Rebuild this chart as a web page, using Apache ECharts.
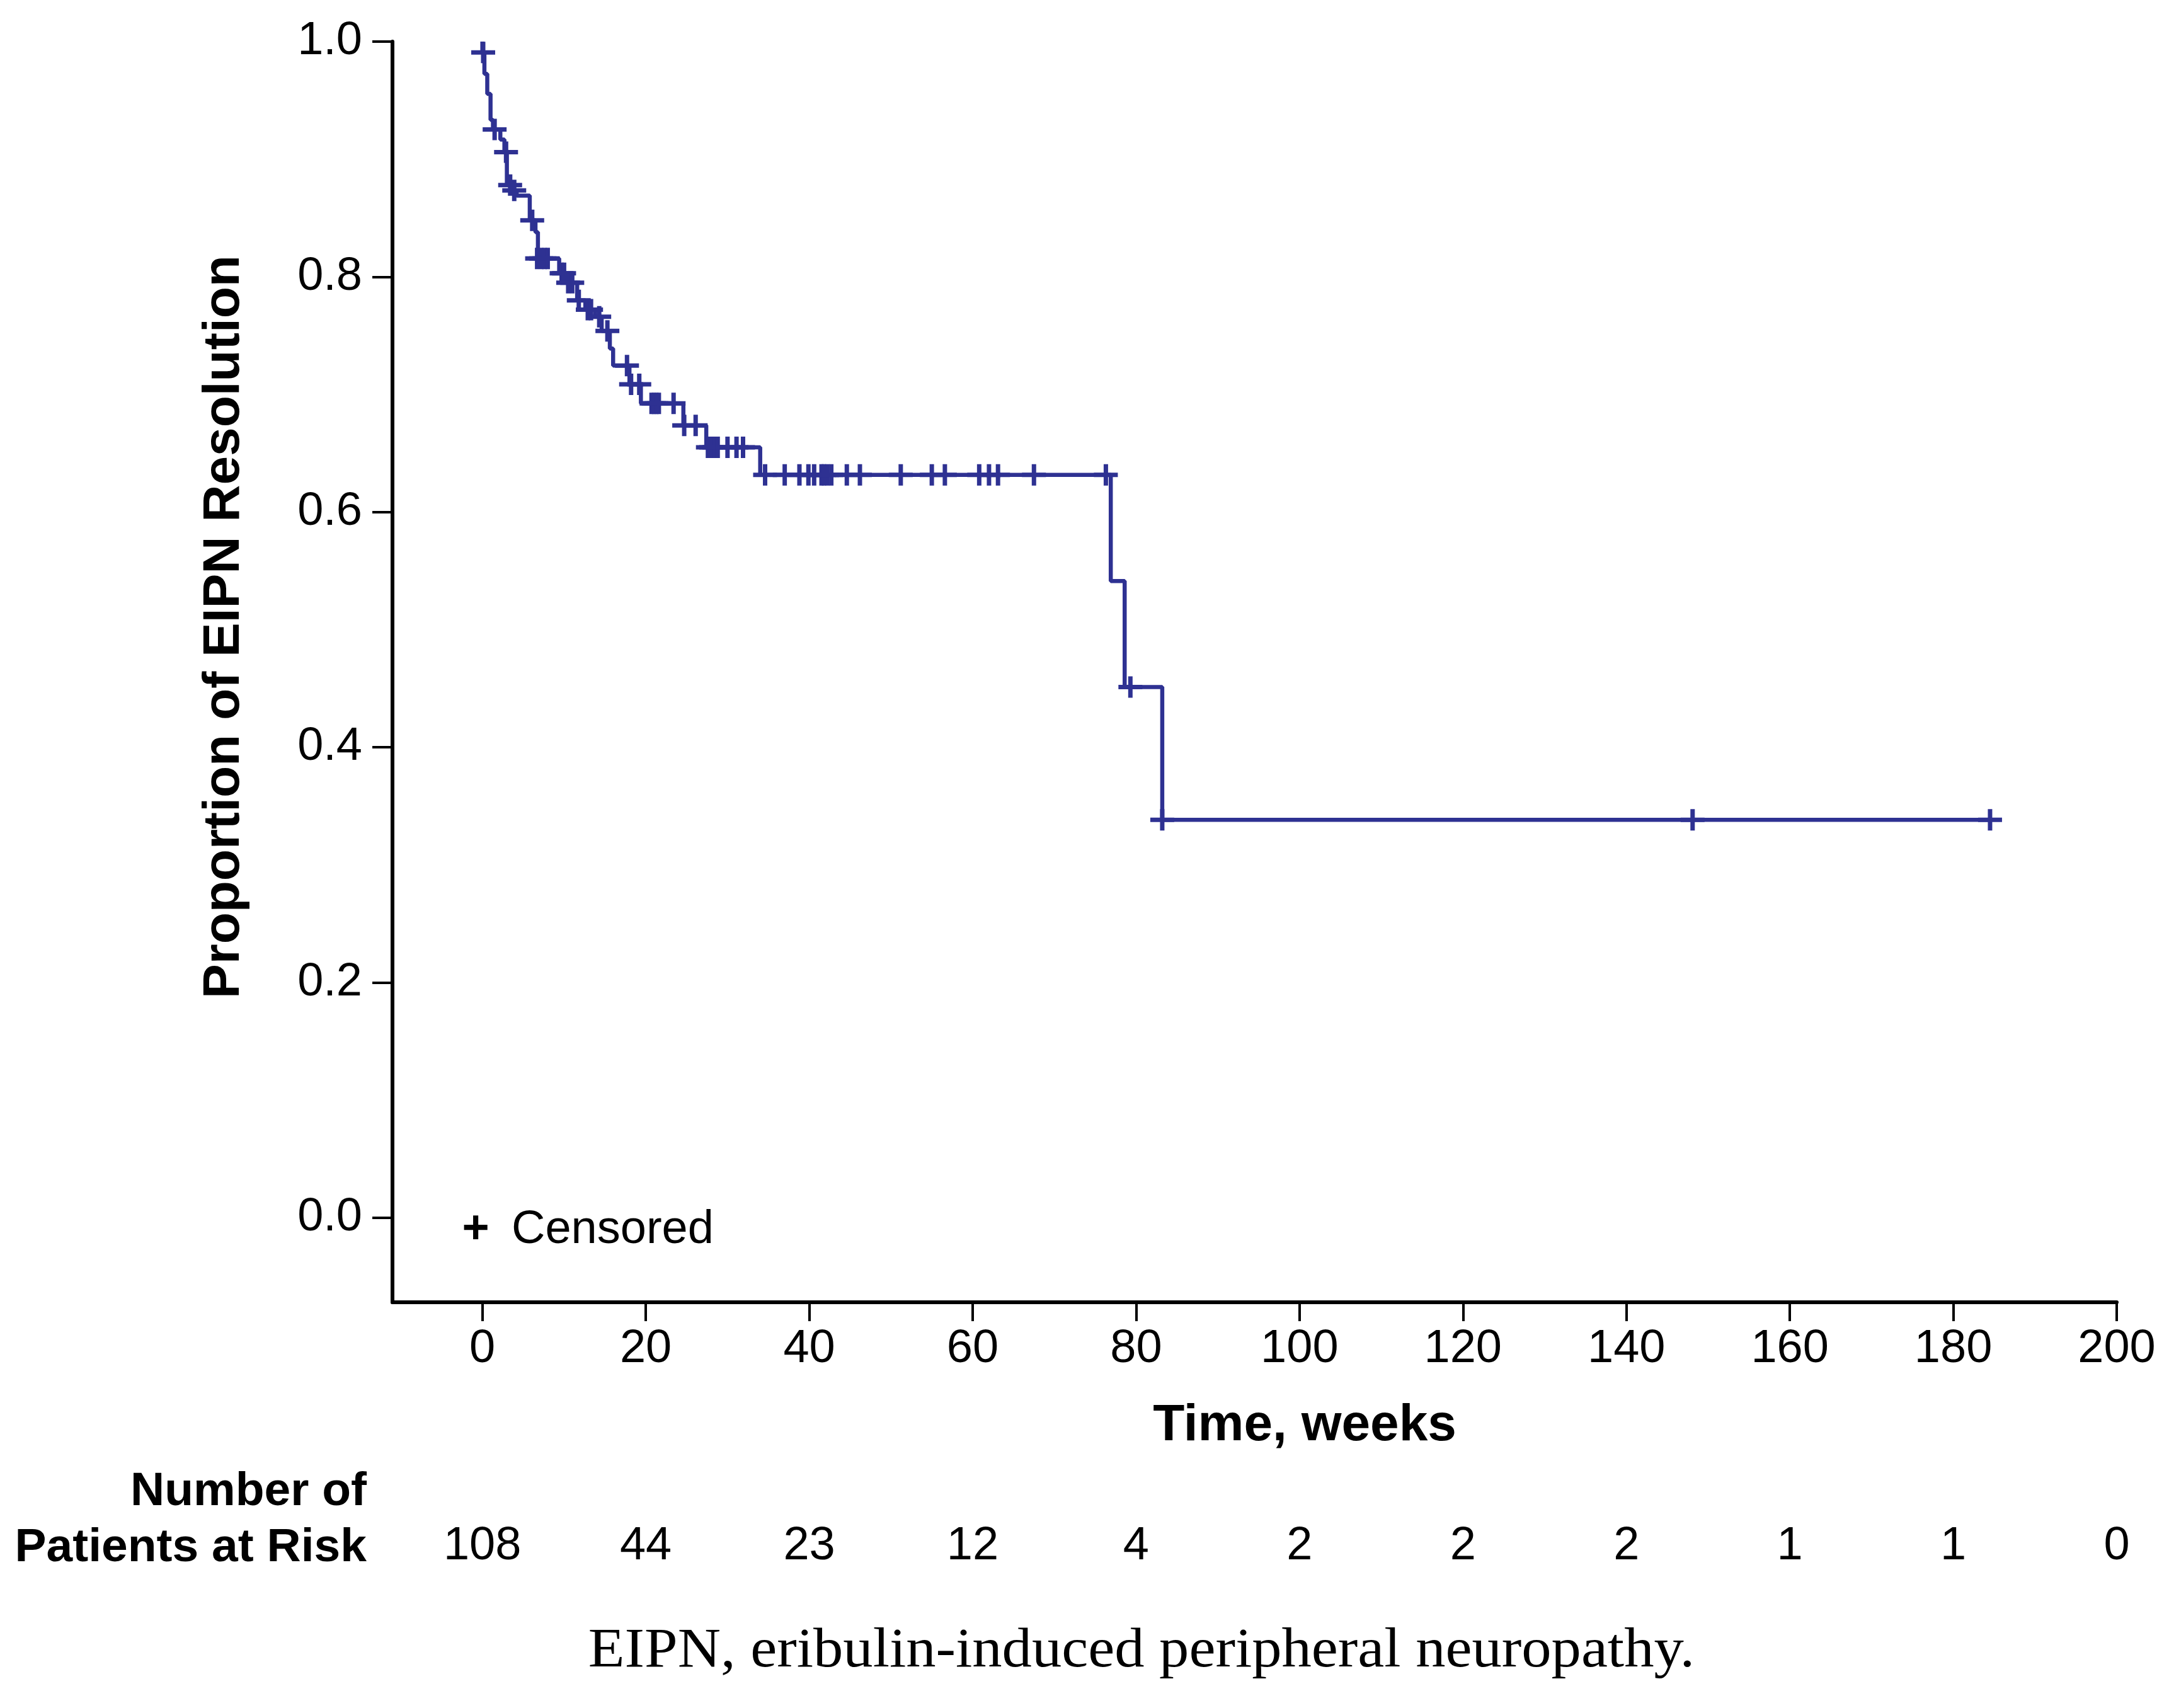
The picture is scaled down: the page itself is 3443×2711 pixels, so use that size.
<!DOCTYPE html>
<html><head><meta charset="utf-8">
<script src="https://cdn.jsdelivr.net/npm/echarts@6/dist/echarts.min.js"></script>
<style>html,body{margin:0;padding:0;background:#fff}#c{width:3443px;height:2711px}</style>
</head><body><div id="c"></div>
<script>
// Kaplan-Meier step curve (time in weeks, proportion after the step)
const curveTimes = [0, 0, 0.25, 0.6, 1.0, 1.3, 2.2, 2.7, 3.0, 3.7, 4.2, 5.8, 6.5, 6.8, 9.4, 10.2, 11.6, 12.6, 13.8, 14.6, 15.6, 16.0, 18.0, 19.4, 24.6, 27.4, 34.0, 76.9, 78.6, 83.2, 184.5];
const curveSurv  = [1.0, 0.9907, 0.9726, 0.9556, 0.9335, 0.9252, 0.9167, 0.906, 0.878, 0.8735, 0.869, 0.848, 0.838, 0.8156, 0.803, 0.795, 0.780, 0.772, 0.766, 0.754, 0.739, 0.7245, 0.7085, 0.6924, 0.6736, 0.655, 0.6315, 0.5413, 0.4511, 0.3383, 0.3383];

// Censored observations
const censorTimes = [0.1, 1.5, 2.9, 3.4, 3.9, 6.1, 6.7, 7.2, 7.6, 8.0, 9.7, 10.0, 10.5, 11.0, 11.8, 12.9, 13.3, 14.3, 15.3, 17.7, 18.2, 19.2, 20.7, 21.0, 21.3, 21.6, 23.4, 24.7, 26.1, 27.6, 28.0, 28.4, 28.8, 30.0, 31.1, 31.9, 34.6, 37.0, 38.8, 39.9, 40.6, 41.5, 41.8, 42.2, 42.7, 44.6, 46.2, 51.2, 55.0, 56.6, 60.8, 62.0, 63.1, 67.5, 76.3, 79.3, 83.2, 148.1, 184.5];
const censorSurv  = [0.9907, 0.9252, 0.906, 0.878, 0.8735, 0.848, 0.8156, 0.8156, 0.8156, 0.8156, 0.803, 0.803, 0.795, 0.795, 0.780, 0.772, 0.772, 0.766, 0.754, 0.7245, 0.7085, 0.7085, 0.6924, 0.6924, 0.6924, 0.6924, 0.6924, 0.6736, 0.6736, 0.655, 0.655, 0.655, 0.655, 0.655, 0.655, 0.655, 0.6315, 0.6315, 0.6315, 0.6315, 0.6315, 0.6315, 0.6315, 0.6315, 0.6315, 0.6315, 0.6315, 0.6315, 0.6315, 0.6315, 0.6315, 0.6315, 0.6315, 0.6315, 0.6315, 0.4511, 0.3383, 0.3383, 0.3383];

const xTicks = [0, 20, 40, 60, 80, 100, 120, 140, 160, 180, 200];
const yTicks = [0, 0.2, 0.4, 0.6, 0.8, 1.0];
const atRisk = [108, 44, 23, 12, 4, 2, 2, 2, 1, 1, 0];

const yTitle = 'Proportion of EIPN Resolution';
const xTitle = 'Time, weeks';
const riskTitle1 = 'Number of';
const riskTitle2 = 'Patients at Risk';
const legendText = 'Censored';
const caption = 'EIPN, eribulin-induced peripheral neuropathy.';

const LINE = '#2E3192';
const SANS = '"Liberation Sans", Arial, sans-serif';

const chart = echarts.init(document.getElementById('c'), null, {renderer: 'canvas'});

const curveData = curveTimes.map((t, i) => [t, curveSurv[i]]);
const censorData = censorTimes.map((t, i) => [t, censorSurv[i]]);

const option = {
  animation: false,
  backgroundColor: '#fff',
  grid: {left: 623, right: 83, top: 66, bottom: 644, containLabel: false},
  xAxis: {
    type: 'value', min: -11, max: 200,
    axisLine: {show: true, onZero: false, lineStyle: {color: '#000', width: 6}},
    axisTick: {show: true, inside: false, length: 30, customValues: xTicks, lineStyle: {color: '#000', width: 4}},
    axisLabel: {show: true, customValues: xTicks, margin: 38, color: '#000', fontFamily: SANS, fontSize: 74},
    splitLine: {show: false}
  },
  yAxis: {
    type: 'value', min: -0.072, max: 1.0,
    axisLine: {show: true, onZero: false, lineStyle: {color: '#000', width: 6}},
    axisTick: {show: true, inside: false, length: 32, customValues: yTicks, lineStyle: {color: '#000', width: 4}},
    axisLabel: {show: true, customValues: yTicks, margin: 48, color: '#000', fontFamily: SANS, fontSize: 74,
      formatter: v => v.toFixed(1)},
    splitLine: {show: false}
  },
  series: [
    {
      type: 'line', step: 'end', data: curveData, showSymbol: false, symbol: 'none',
      lineStyle: {color: LINE, width: 6.5}, z: 3
    },
    {
      type: 'scatter', data: censorData,
      symbol: 'path://M15.5,0 H22.5 V13.5 H38 V20.5 H22.5 V34 H15.5 V20.5 H0 V13.5 H15.5 Z',
      symbolSize: [38, 34], symbolKeepAspect: false,
      itemStyle: {color: LINE, opacity: 1}, z: 4
    }
  ]
};
chart.setOption(option);

const graphics = [
  {type: 'text', x: 356, y: 995, rotation: Math.PI / 2,
   style: {text: yTitle, x: 0, y: 0, align: 'center', verticalAlign: 'middle', fill: '#000',
     font: 'bold 82px ' + SANS}},
  {type: 'text', x: 2071, y: 2263,
   style: {text: xTitle, align: 'center', verticalAlign: 'middle', fill: '#000', font: 'bold 82px ' + SANS}},
  {type: 'text', x: 582, y: 2368,
   style: {text: riskTitle1, align: 'right', verticalAlign: 'middle', fill: '#000', font: 'bold 75px ' + SANS}},
  {type: 'text', x: 582, y: 2457,
   style: {text: riskTitle2, align: 'right', verticalAlign: 'middle', fill: '#000', font: 'bold 75px ' + SANS}},
  {type: 'text', x: 755, y: 1953,
   style: {text: '+', align: 'center', verticalAlign: 'middle', fill: '#000', font: 'bold 74px ' + SANS}},
  {type: 'text', x: 812, y: 1953,
   style: {text: legendText, align: 'left', verticalAlign: 'middle', fill: '#000', font: '74px ' + SANS}},
  {type: 'text', x: 1812, y: 2622, scaleX: 1.075, scaleY: 1,
   style: {text: caption, x: 0, y: 0, align: 'center', verticalAlign: 'middle', fill: '#000', font: '88px "Liberation Serif", "Times New Roman", serif'}}
];
xTicks.forEach((t, i) => {
  const px = chart.convertToPixel({xAxisIndex: 0}, t);
  graphics.push({type: 'text', x: px, y: 2455,
    style: {text: String(atRisk[i]), align: 'center', verticalAlign: 'middle', fill: '#000', font: '74px ' + SANS}});
});
chart.setOption({graphic: graphics});
</script>
</body></html>
